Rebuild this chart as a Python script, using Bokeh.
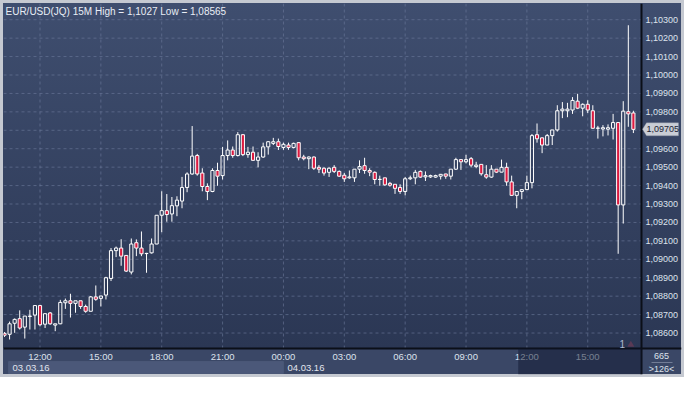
import numpy as np
from bokeh.plotting import figure
from bokeh.models import (Range1d, Label, BoxAnnotation, PolyAnnotation, Span, ColumnDataSource)
from bokeh.core.properties import value
from bokeh.embed import file_html
from bokeh.resources import INLINE

# ---------------- data (EUR/USD 15M candles, 03.03.16 10:15 -> 04.03.16 17:15) ----------------
open_ = [
    1.08598, 1.08593, 1.08653, 1.08678, 1.08632, 1.08690, 1.08697, 1.08749, 1.08648, 1.08709,
    1.08643, 1.08650, 1.08764, 1.08775, 1.08761, 1.08775, 1.08744, 1.08718, 1.08796, 1.08788,
    1.08806, 1.08896, 1.09047, 1.09061, 1.09021, 1.08931, 1.09090, 1.09061, 1.09031, 1.09035,
    1.09083, 1.09239, 1.09264, 1.09246, 1.09290, 1.09316, 1.09390, 1.09463, 1.09563, 1.09468,
    1.09395, 1.09368, 1.09482, 1.09454, 1.09563, 1.09593, 1.09563, 1.09676, 1.09568, 1.09581,
    1.09537, 1.09555, 1.09610, 1.09629, 1.09638, 1.09607, 1.09620, 1.09607, 1.09633, 1.09555,
    1.09546, 1.09555, 1.09499, 1.09494, 1.09472, 1.09499, 1.09477, 1.09456, 1.09442, 1.09442,
    1.09489, 1.09508, 1.09482, 1.09472, 1.09433, 1.09442, 1.09412, 1.09407, 1.09390, 1.09368,
    1.09437, 1.09442, 1.09477, 1.09447, 1.09447, 1.09446, 1.09451, 1.09463, 1.09451, 1.09489,
    1.09541, 1.09529, 1.09546, 1.09503, 1.09515, 1.09459, 1.09446, 1.09489, 1.09473, 1.09499,
    1.09420, 1.09347, 1.09368, 1.09378, 1.09416, 1.09676, 1.09659, 1.09620, 1.09671, 1.09702,
    1.09806, 1.09806, 1.09810, 1.09858, 1.09820, 1.09841, 1.09806, 1.09711, 1.09707, 1.09706,
    1.09711, 1.09742, 1.09295, 1.09801, 1.09794,
]
high = [
    1.08605, 1.08662, 1.08679, 1.08723, 1.08692, 1.08726, 1.08749, 1.08752, 1.08705, 1.08714,
    1.08650, 1.08780, 1.08787, 1.08813, 1.08775, 1.08775, 1.08754, 1.08801, 1.08858, 1.08801,
    1.08905, 1.09061, 1.09069, 1.09109, 1.09021, 1.09113, 1.09108, 1.09151, 1.09035, 1.09113,
    1.09239, 1.09369, 1.09354, 1.09338, 1.09342, 1.09447, 1.09472, 1.09723, 1.09572, 1.09494,
    1.09412, 1.09494, 1.09524, 1.09610, 1.09645, 1.09612, 1.09690, 1.09680, 1.09610, 1.09612,
    1.09581, 1.09633, 1.09641, 1.09659, 1.09655, 1.09633, 1.09633, 1.09633, 1.09635, 1.09567,
    1.09558, 1.09558, 1.09511, 1.09499, 1.09499, 1.09511, 1.09482, 1.09468, 1.09482, 1.09489,
    1.09537, 1.09551, 1.09494, 1.09477, 1.09454, 1.09443, 1.09420, 1.09408, 1.09407, 1.09447,
    1.09454, 1.09485, 1.09482, 1.09477, 1.09459, 1.09459, 1.09463, 1.09464, 1.09489, 1.09551,
    1.09542, 1.09567, 1.09555, 1.09529, 1.09516, 1.09511, 1.09511, 1.09490, 1.09541, 1.09524,
    1.09454, 1.09368, 1.09378, 1.09454, 1.09680, 1.09737, 1.09662, 1.09680, 1.09702, 1.09836,
    1.09853, 1.09849, 1.09880, 1.09898, 1.09846, 1.09863, 1.09836, 1.09724, 1.09728, 1.09732,
    1.09789, 1.09743, 1.09858, 1.10270, 1.09806,
]
low = [
    1.08579, 1.08565, 1.08601, 1.08619, 1.08570, 1.08619, 1.08619, 1.08636, 1.08627, 1.08645,
    1.08610, 1.08648, 1.08731, 1.08684, 1.08710, 1.08731, 1.08710, 1.08718, 1.08775, 1.08744,
    1.08782, 1.08882, 1.09012, 1.08965, 1.08931, 1.08918, 1.09017, 1.09017, 1.08927, 1.09031,
    1.09082, 1.09147, 1.09204, 1.09204, 1.09234, 1.09277, 1.09364, 1.09459, 1.09454, 1.09369,
    1.09321, 1.09364, 1.09399, 1.09433, 1.09537, 1.09551, 1.09558, 1.09560, 1.09551, 1.09535,
    1.09499, 1.09551, 1.09568, 1.09620, 1.09593, 1.09594, 1.09594, 1.09602, 1.09537, 1.09537,
    1.09489, 1.09485, 1.09468, 1.09454, 1.09447, 1.09468, 1.09447, 1.09420, 1.09437, 1.09420,
    1.09468, 1.09464, 1.09451, 1.09407, 1.09399, 1.09399, 1.09394, 1.09355, 1.09355, 1.09347,
    1.09430, 1.09407, 1.09442, 1.09425, 1.09442, 1.09442, 1.09433, 1.09437, 1.09433, 1.09485,
    1.09485, 1.09520, 1.09499, 1.09494, 1.09454, 1.09437, 1.09442, 1.09468, 1.09472, 1.09399,
    1.09345, 1.09277, 1.09326, 1.09377, 1.09385, 1.09633, 1.09576, 1.09619, 1.09620, 1.09693,
    1.09766, 1.09771, 1.09789, 1.09815, 1.09776, 1.09794, 1.09709, 1.09655, 1.09667, 1.09672,
    1.09650, 1.09030, 1.09194, 1.09719, 1.09685,
]
close = [
    1.08588, 1.08650, 1.08674, 1.08627, 1.08692, 1.08692, 1.08749, 1.08645, 1.08705, 1.08650,
    1.08650, 1.08766, 1.08775, 1.08761, 1.08775, 1.08744, 1.08718, 1.08796, 1.08783, 1.08801,
    1.08900, 1.09047, 1.09061, 1.09017, 1.08936, 1.09083, 1.09061, 1.09030, 1.09032, 1.09083,
    1.09239, 1.09264, 1.09243, 1.09291, 1.09321, 1.09390, 1.09463, 1.09560, 1.09463, 1.09395,
    1.09368, 1.09482, 1.09451, 1.09563, 1.09593, 1.09563, 1.09676, 1.09568, 1.09581, 1.09537,
    1.09555, 1.09610, 1.09638, 1.09638, 1.09612, 1.09624, 1.09607, 1.09629, 1.09551, 1.09546,
    1.09555, 1.09494, 1.09489, 1.09468, 1.09494, 1.09477, 1.09451, 1.09437, 1.09447, 1.09489,
    1.09503, 1.09482, 1.09473, 1.09433, 1.09434, 1.09404, 1.09402, 1.09385, 1.09368, 1.09437,
    1.09442, 1.09472, 1.09446, 1.09454, 1.09454, 1.09454, 1.09461, 1.09451, 1.09489, 1.09541,
    1.09529, 1.09541, 1.09511, 1.09511, 1.09464, 1.09446, 1.09489, 1.09473, 1.09499, 1.09420,
    1.09347, 1.09368, 1.09378, 1.09416, 1.09671, 1.09654, 1.09620, 1.09671, 1.09702, 1.09806,
    1.09815, 1.09815, 1.09862, 1.09820, 1.09841, 1.09810, 1.09711, 1.09712, 1.09714, 1.09714,
    1.09742, 1.09295, 1.09804, 1.09789, 1.09705,
]

time_ticks = [7, 19, 31, 43, 55, 67, 79, 91, 103, 115]
time_labels = ["12:00", "15:00", "18:00", "21:00", "00:00", "03:00", "06:00", "09:00", "12:00", "15:00"]
price_ticks = [1.086, 1.087, 1.088, 1.089, 1.090, 1.091, 1.092, 1.093, 1.094,
               1.095, 1.096, 1.097, 1.098, 1.099, 1.100, 1.101, 1.102, 1.103]
date_labels = ["03.03.16", "04.03.16"]
date_starts = [0.8, 55.0]
dim_start = 101.3
symbol = "EUR/USD(JQ) 15M"
info_texts = ["665", ">126<"]
page_text = "1"
page_x, page_y = 121.8, 1.08542
marker_x, marker_y = [123.5], [1.08536]

# ---------------- layout ----------------
W, H = 684, 377
B = 3                       # light outer border
CW, CH = 638, 345           # chart area
RW, BH = 40, 26             # right price panel, bottom time panel
x0, x1 = -0.2, 125.6        # chart x extent (candle index)
y0, y1 = 1.08516, 1.10388   # chart price extent
dxp = (x1 - x0) / CW
dyp = (y1 - y0) / CH
xR = x1 + RW * dxp
yB = y0 - BH * dyp
FONT = "Liberation Sans"
TXT = "#dde2ec"
FS = "9px"

p = figure(width=W, height=H, output_backend="svg", toolbar_location=None,
           x_range=Range1d(x0, xR), y_range=Range1d(yB, y1),
           x_axis_location=None, y_axis_location=None,
           min_border_left=B, min_border_right=B, min_border_top=B, min_border_bottom=B)
p.background_fill_color = None
p.border_fill_color = None
p.outline_line_color = None
p.grid.visible = False
p.styles = {
    "background": f"linear-gradient(to bottom, #3f4e6f 0px, #2b3754 {B + CH}px, "
                  f"#3a4766 {B + CH}px, #3a4766 100%)",
    "outline": "3px solid #c5c9d1",
    "outline-offset": "-3px",
}

# dashed grid (from tick arrays, limited to the chart area)
p.segment(x0=time_ticks, y0=[y0] * len(time_ticks), x1=time_ticks, y1=[y1] * len(time_ticks),
          line_color="#6e7c9c", line_alpha=0.6, line_dash="3 3", line_width=1, level="underlay")
p.segment(x0=[x0] * len(price_ticks), y0=price_ticks, x1=[x1] * len(price_ticks), y1=price_ticks,
          line_color="#6e7c9c", line_alpha=0.6, line_dash="3 3", line_width=1, level="underlay")

# candles
o = np.array(open_); c = np.array(close); h = np.array(high); l = np.array(low)
xi = np.arange(len(o))
top = np.maximum(o, c); bot = np.minimum(o, c)
up = c >= o
src_all = ColumnDataSource(dict(x=xi, top=top, bot=bot, h=h, l=l))
p.segment(x0="x", y0="h", x1="x", y1="top", source=src_all, line_color="white", line_width=1)
p.segment(x0="x", y0="bot", x1="x", y1="l", source=src_all, line_color="white", line_width=1)
src_up = ColumnDataSource(dict(x=xi[up], top=top[up], bot=bot[up]))
src_dn = ColumnDataSource(dict(x=xi[~up], top=top[~up], bot=bot[~up]))
p.vbar(x="x", width=0.62, top="top", bottom="bot", source=src_up,
       fill_alpha=0, line_color="white", line_width=1)
p.vbar(x="x", width=0.62, top="top", bottom="bot", source=src_dn,
       fill_color="#dc1a40", line_color="white", line_width=1)

# separators (axis lines)
p.add_layout(Span(location=x1, dimension="height", line_color="#0b0f18", line_width=2))
p.add_layout(Span(location=y0, dimension="width", line_color="#0b0f18", line_width=2))

# price scale labels
price_labels = [f"{t:.5f}".replace(".", ",") for t in price_ticks]
p.text(x=[x1] * len(price_ticks), y=price_ticks, text=price_labels, x_offset=4,
       text_baseline="middle", text_align="left", text_color=TXT,
       text_font=value(FONT), text_font_size=FS)

# time scale labels
p.text(x=time_ticks, y=[y0 - 8 * dyp] * len(time_ticks), text=time_labels,
       text_baseline="middle", text_align="center", text_color=TXT,
       text_font=value(FONT), text_font_size="9.5px")

# title
hi_s = f"{max(high):.5f}".rstrip("0").replace(".", ",")
lo_s = f"{min(low):.5f}".rstrip("0").replace(".", ",")
p.add_layout(Label(x=x0, y=y1, x_offset=2, y_offset=-2, text=f"{symbol} High = {hi_s} Low = {lo_s}",
                   text_baseline="top", text_color="#e9edf5", text_font=FONT, text_font_size="10px"))

# current price box on the price scale
last = close[-1]
hh = 6.5 * dyp
p.add_layout(PolyAnnotation(xs=[x1 + dxp * 1, x1 + dxp * 5, x1 + dxp * 37, x1 + dxp * 37, x1 + dxp * 5],
                            ys=[last, last + hh, last + hh, last - hh, last - hh],
                            fill_color="#c9cdd5", fill_alpha=1, line_color="#8e95a3", line_width=1))
p.add_layout(Label(x=x1, y=last, x_offset=5, text=f"{last:.5f}".replace(".", ","),
                   text_baseline="middle", text_color="#1c2333", text_font=FONT,
                   text_font_size=FS))

# page marker
p.add_layout(Label(x=page_x, y=page_y, text=page_text, text_align="center", text_baseline="middle",
                   text_color="#aebad2", text_font=FONT, text_font_size="10px"))
p.scatter(marker_x, marker_y, marker="triangle", size=7, fill_color="#5a3a55", line_color=None)

# date strip
p.add_layout(BoxAnnotation(left=date_starts[0], right=date_starts[1],
                           top=y0 - 13 * dyp, bottom=y0 - 25 * dyp,
                           fill_color="#4b5879", fill_alpha=1, line_color="#5e6b8a", line_width=1))
for ds, dl in zip(date_starts, date_labels):
    p.add_layout(Label(x=ds, y=y0 - 19 * dyp, x_offset=4, text=dl, text_baseline="middle",
                       text_color="#e1e5ee", text_font=FONT, text_font_size="9.5px"))

# dimmed region at the right of the time scale
p.add_layout(BoxAnnotation(left=dim_start, right=x1, top=y0, bottom=yB,
                           fill_color="#0f1830", fill_alpha=0.5, line_color=None, level="overlay"))

# info box (bottom right)
xc = x1 + 20 * dxp
p.add_layout(Label(x=xc, y=y0 - 7 * dyp, text=info_texts[0], text_align="center",
                   text_baseline="middle", text_color=TXT, text_font=FONT, text_font_size=FS))
p.add_layout(Label(x=xc, y=y0 - 20 * dyp, text=info_texts[1], text_align="center",
                   text_baseline="middle", text_color=TXT, text_font=FONT, text_font_size=FS))
p.add_layout(PolyAnnotation(xs=[x1 + dxp * 10, x1 + dxp * 31, x1 + dxp * 31, x1 + dxp * 10],
                            ys=[y0 - 13.5 * dyp, y0 - 13.5 * dyp, y0 - 14 * dyp, y0 - 14 * dyp],
                            fill_color="#aab3c6", fill_alpha=1, line_color=None))

open("out.html", "w").write(file_html(p, INLINE))
